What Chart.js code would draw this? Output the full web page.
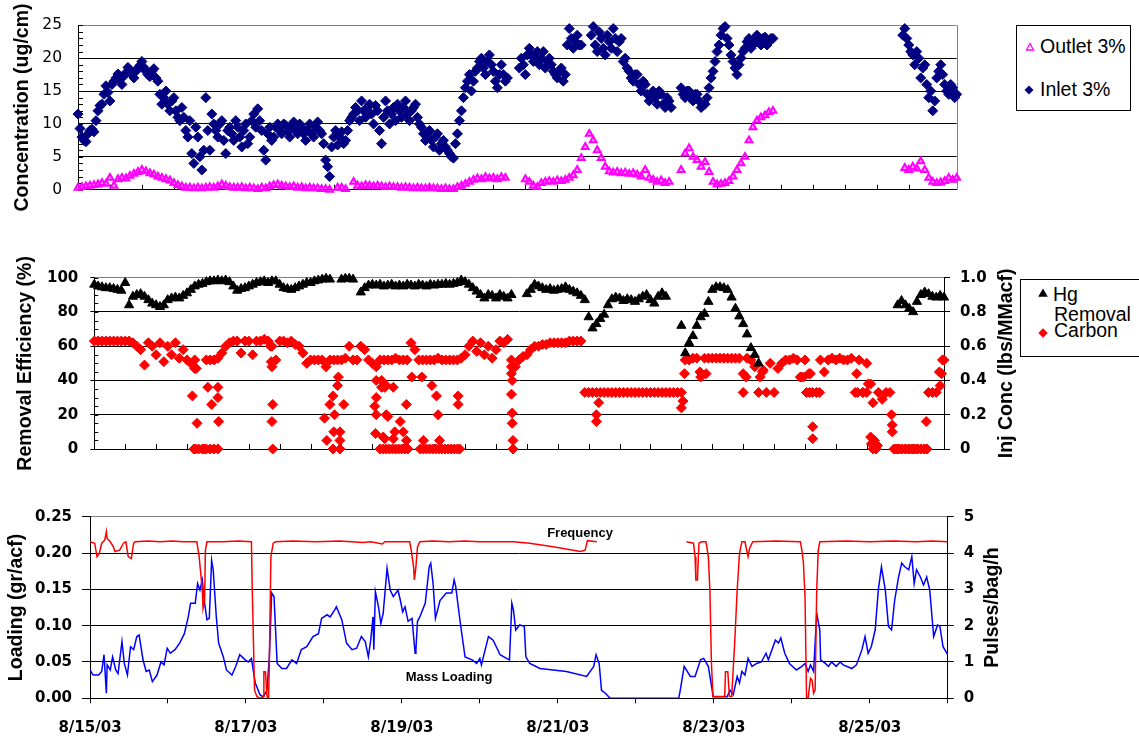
<!DOCTYPE html>
<html>
<head>
<meta charset="utf-8">
<script src="https://cdn.jsdelivr.net/npm/chart.js@4.4.1/dist/chart.umd.min.js"></script>
<style>
html,body{margin:0;padding:0;background:#fff;}
#wrap{position:relative;width:1139px;height:738px;overflow:hidden;background:#fff;font-family:"Liberation Sans",Arial,sans-serif;color:#000;}
canvas{position:absolute;left:0;}
.legend{position:absolute;border:1px solid #000;background:#fff;box-sizing:border-box;}
.lt{position:absolute;font-size:19.5px;line-height:19.5px;white-space:nowrap;}
.mk{position:absolute;width:10px;height:10px;}
.ann{position:absolute;font-weight:bold;font-size:13px;line-height:13px;white-space:nowrap;transform:translate(-50%,-50%);}
</style>
</head>
<body>
<div id="wrap">
  <canvas id="c1" width="1139" height="215" style="top:0px"></canvas>
  <canvas id="c2" width="1139" height="230" style="top:240px"></canvas>
  <canvas id="c3" width="1139" height="248" style="top:490px"></canvas>

  <div class="legend" style="left:1016px;top:25px;width:115px;height:86px;"></div>
  <svg class="mk" style="left:1024.5px;top:42px"><polygon points="5,1.5 8.5,8 1.5,8" fill="none" stroke="#FF00FF" stroke-width="1.3"/></svg>
  <div class="lt" style="left:1040px;top:36.5px">Outlet 3%</div>
  <svg class="mk" style="left:1024px;top:85px"><polygon points="5,0.5 9.5,5 5,9.5 0.5,5" fill="#000080"/></svg>
  <div class="lt" style="left:1040px;top:79.5px">Inlet 3%</div>

  <div class="legend" style="left:1020px;top:279px;width:130px;height:78px;"></div>
  <svg class="mk" style="left:1037.5px;top:288px"><polygon points="5,0.5 9.8,8.8 0.2,8.8" fill="#000"/></svg>
  <div class="lt" style="left:1053px;top:285px">Hg</div>
  <div class="lt" style="left:1054px;top:305px">Removal</div>
  <svg class="mk" style="left:1038px;top:328px"><polygon points="5,0.3 9.7,5 5,9.7 0.3,5" fill="#FF0000"/></svg>
  <div class="lt" style="left:1054px;top:320.5px">Carbon</div>

  <div class="ann" style="left:580px;top:531.7px">Frequency</div>
  <div class="ann" style="left:449px;top:676.3px">Mass Loading</div>
</div>
<script>
// ---------- DATA ----------
// x values are days after 8/15/03 00:00; scatter series are sampled every STEP days
const STEP = 0.05;
const HALF = 0.025;   // second set of inlet readings sits between the first
const dateLabels = ['8/15/03','','8/17/03','','8/19/03','','8/21/03','','8/23/03','','8/25/03',''];

// Panel 1: Inlet 3% concentration (ug/cm), readings at t = i*STEP
const inletVals = [
 11.5, 8.0, 7.3, 9.0, 8.8, 12.0, 13.0, 15.8, 13.5, 16.5, 17.6, 16.0, 17.8, 18.2, 17.0, 18.5, 19.5, 18.0, 17.2, 18.4,
 16.5, 13.0, 15.0, 12.0, 14.0, 11.0, 12.5, 9.0, 10.5, 4.0, 8.0, 3.0, 14.0, 6.0, 10.0, 8.0, 10.5, 5.5, 9.5, 7.5,
 9.5, 6.5, 10.0, 8.0, 11.5, 12.3, 9.0, 4.5, 9.5, 8.0, 10.0, 8.5, 9.8, 8.0, 10.3, 8.5, 9.5, 7.5, 10.0, 8.0,
 10.3, 8.5, 4.5, 2.0, 8.0, 6.8, 8.8, 7.5, 10.5, 11.5, 12.0, 13.5, 11.0, 13.0, 10.0, 12.0, 7.0, 13.5, 10.0, 12.5,
 13.0, 11.0, 13.5, 10.5, 12.5, 11.0, 9.5, 7.5, 9.0, 6.5, 8.5, 7.0, 6.5, 5.5, 4.8, 8.5, 12.0, 15.5, 17.5, 16.5,
 18.5, 20.0, 17.5, 20.5, 18.0, 15.5, 19.0, 16.5, null, null, null, 20.0, 17.5, 21.5, 19.5, 21.0, 20.0, 18.5, 20.0, 18.0,
 17.0, 18.5, 17.5, 24.5, 21.5, 23.5, 22.0, null, null, 24.8, 21.0, 23.0, 20.5, 22.5, 24.5, 21.0, 23.0, 20.0, 18.0, 16.5,
 17.5, 15.0, 16.0, 13.5, 15.0, 13.0, 14.5, 12.5, 13.5, null, null, 15.5, 14.0, 15.0, 13.5, 14.5, 12.5, 13.0, 15.5, 18.0,
 21.0, 23.5, 24.8, 22.0, 19.5, 17.5, 20.0, 21.5, 23.0, 22.0, 23.5, 22.0, 23.2, 22.5, 23.0, null, null, null, null, null,
 null, null, null, null, null, null, null, null, null, null, null, null, null, null, null, null, null, null, null, null,
 null, null, null, null, null, null, null, 24.5, 22.0, 20.5, 21.0, 17.0, 19.0, 14.0, 12.0, 17.0, 19.0, 16.0, 14.5, 15.5,
 14.5
];
// Panel 1: Inlet 3% further readings at t = HALF + i*STEP
const inletValsB = [
 9.3, 7.5, 8.5, 9.2, 10.5, 12.8, 14.5, 14.8, 16.0, 17.0, 16.8, 17.3, 18.6, 17.5, 18.0, 18.9, 18.6, 17.5, 18.0, 17.0,
 14.5, 14.0, 13.0, 13.5, 12.0, 10.5, 11.0, 8.0, 5.5, 9.5, 5.0, 6.0, 9.0, 11.5, 9.0, 10.0, 7.5, 9.0, 8.5, 10.5,
 8.0, 9.0, 7.0, 10.5, 9.5, 10.5, 6.0, 8.5, 7.5, 9.5, 9.0, 10.0, 8.8, 9.5, 9.0, 10.0, 8.5, 9.0, 8.5, 9.5,
 9.0, 7.0, 3.5, 6.5, 9.0, 8.0, 7.0, 9.0, 11.0, 12.5, 10.5, 12.0, 12.5, 11.5, 12.8, 9.0, 11.0, 12.0, 11.5, 10.5,
 12.0, 12.5, 11.5, 12.0, 13.0, 10.0, 8.5, 8.5, 7.5, 8.0, 6.0, 7.5, 6.0, 5.0, 7.0, 10.5, 14.0, 16.5, 15.0, 18.0,
 19.5, 18.5, 19.5, 19.0, 16.5, 17.5, 17.5, 17.0, null, null, 18.5, 19.0, 20.5, 20.5, 20.0, 19.0, 21.0, 19.5, 19.0, 17.5,
 18.0, 16.5, 22.0, 23.0, 22.5, 22.0, null, null, 23.5, 22.0, 24.0, 21.5, 23.5, 21.5, 23.0, 22.5, 19.5, 18.5, 17.0, 17.5,
 16.0, 16.5, 14.5, 14.5, 14.0, 15.0, 13.0, 14.0, 12.5, null, null, 14.5, 15.0, 14.0, 14.5, 13.5, 12.8, 14.0, 17.0, 19.5,
 22.0, 24.5, 23.0, 20.5, 18.5, 19.0, 21.0, 22.5, 21.5, 23.0, 22.5, 23.0, 22.0, 23.0, null, null, null, null, null, null,
 null, null, null, null, null, null, null, null, null, null, null, null, null, null, null, null, null, null, null, null,
 null, null, null, null, null, null, 23.5, 23.0, 21.0, 19.0, 20.0, 18.5, 16.0, 15.0, 13.5, 18.0, 17.5, 15.0, 16.0, 14.0
];

// Panel 1: Outlet 3% concentration (ug/cm)
const outletVals = [
 0.3, 0.4, 0.5, 0.6, 0.7, 0.8, 1.0, 0.9, 1.8, 0.6, 1.6, 1.8, 1.7, 2.1, 2.4, 2.7, 3.0, 2.8, 2.5, 2.3,
 2.0, 1.8, 1.6, 1.4, 1.0, 0.7, 0.5, 0.3, 0.3, 0.2, 0.3, 0.2, 0.3, 0.4, 0.3, 0.5, 0.8, 0.6, 0.4, 0.3,
 0.3, 0.4, 0.2, 0.3, 0.2, 0.1, 0.3, 0.2, 0.5, 0.7, 0.8, 0.6, 0.5, 0.4, 0.5, 0.3, 0.4, 0.2, 0.3, 0.2,
 0.2, 0.1, 0.1, 0.0, null, 0.3, 0.3, 0.1, null, 1.2, 0.6, 0.5, 0.7, 0.6, 0.5, 0.6, 0.5, 0.4, 0.5, 0.4,
 0.4, 0.3, 0.4, 0.3, 0.2, 0.3, 0.2, 0.2, 0.3, 0.2, 0.2, 0.1, 0.2, 0.1, 0.1, 0.4, 0.6, 0.9, 1.2, 1.5,
 1.7, 1.6, 1.9, 1.7, 1.8, 1.6, 1.9, 1.8, null, null, null, null, 1.6, 1.2, 0.6, 0.4, 1.0, 1.2, 1.3, 1.2,
 1.4, 1.3, 1.5, 1.8, 2.2, 3.0, 4.8, 6.5, 8.5, 7.5, 6.0, 4.8, 3.5, 2.8, 2.6, 2.7, 2.5, 2.6, 2.4, 2.5,
 2.3, 2.0, 3.0, 1.8, 1.5, 1.2, 1.4, 1.0, 1.2, null, null, 3.0, 5.5, 6.3, 5.0, 4.5, 3.5, 4.2, 2.7, 1.2,
 0.8, 0.9, 1.0, 1.3, 2.0, 3.0, 4.0, 5.0, 7.5, 9.5, 10.5, 11.0, 11.3, 11.8, 12.0, null, null, null, null, null,
 null, null, null, null, null, null, null, null, null, null, null, null, null, null, null, null, null, null, null, null,
 null, null, null, null, null, null, null, 3.3, 3.0, 3.5, 3.2, 4.3, 3.0, 1.8, 1.2, 1.0, 1.1, 1.3, 1.8, 1.5,
 1.8
];

// Panel 2: Hg removal efficiency (%)
const hgVals = [
 96, 95, 94.5, 94, 94, 93.5, 93, 92.5, 97, 84, 89, 90, 90.5, 89, 87, 85, 84, 83, 84, 87,
 88, 88.5, 88, 89.5, 91, 93, 95, 96, 96.5, 97.5, 98, 98, 98.5, 98, 98.5, 97.5, 95, 92.5, 93.5, 94,
 95, 96, 97, 97.5, 98, 97, 98, 98, 96, 94, 93.5, 93, 94, 95, 96, 97, 97, 98, 98.5, 99,
 99.5, 99, null, null, 99, 99.5, 99.5, 99, null, 91.5, 94, 95.5, 96, 95.5, 96, 95, 95.5, 96, 95, 95.5,
 95, 96, 95.5, 95, 96, 95.5, 95, 96, 95.5, 96, 96, 96.5, 96, 96.5, 97, 98.5, 97.5, 96, 94, 92,
 90, 88, 90, 89.5, 88, 90, 89, 88, 90, null, null, null, 90.5, 93, 96, 95, 94, 93, 93.5, 92.5,
 93, 93.5, 94.5, 93, 92, 91, 89.5, 87, 77, 70.5, 73, 76, 78.5, 84, 87.5, 88.5, 88, 86.5, 87.5, 87,
 86, 87.5, 89, 90, 87, 85, 89, 91, 89, null, null, null, 72, 56, 62, 66, 72, 77, 79, 86,
 93, 94.5, 94.5, 94, 93, 88.5, 82, 77.5, 73, 67, 59, 55, 50, null, null, null, null, null, null, null,
 null, null, null, null, null, null, null, null, null, null, null, null, null, null, null, null, null, null, null, null,
 null, null, null, null, null, null, null, null, 84, 86.5, 84, 82, 80, 86, 90, 91.5, 90.5, 89, 88.5, 89.5,
 88.5
];

// Panel 2: Carbon injection concentration (lbs/MMacf), main sampled band
const carbonVals = [
 0.63, 0.63, 0.63, 0.63, 0.63, 0.63, 0.63, 0.63, 0.63, 0.63, 0.62, 0.60, 0.58, 0.49, 0.62, 0.60, 0.55, 0.62, 0.51, 0.60,
 0.55, 0.62, 0.53, 0.58, 0.52, 0.50, 0.47, 0.00, 0.00, 0.52, 0.52, 0.52, 0.53, 0.56, 0.60, 0.62, 0.63, 0.63, 0.56, 0.63,
 0.63, 0.55, 0.63, 0.63, 0.64, 0.63, 0.60, 0.52, 0.63, 0.63, 0.62, 0.63, 0.61, 0.60, 0.56, 0.50, 0.52, 0.52, 0.52, 0.52,
 0.48, 0.52, 0.52, 0.52, 0.52, 0.53, 0.60, 0.52, 0.52, 0.60, 0.58, 0.52, 0.50, 0.48, 0.52, 0.52, 0.52, 0.52, 0.53, 0.52,
 0.52, 0.52, 0.62, 0.58, 0.52, 0.52, 0.52, 0.52, 0.52, 0.53, 0.52, 0.52, 0.52, 0.52, 0.52, 0.53, 0.55, 0.60, 0.63, 0.57,
 0.62, 0.55, 0.60, 0.53, 0.58, 0.63, 0.62, 0.64, 0.52, 0.48, 0.52, 0.54, 0.55, 0.58, 0.60, 0.60, 0.61, 0.61, 0.62, 0.62,
 0.62, 0.62, 0.62, 0.63, 0.63, 0.63, 0.63, 0.33, 0.33, 0.33, 0.33, 0.33, 0.33, 0.33, 0.33, 0.33, 0.33, 0.33, 0.33, 0.33,
 0.33, 0.33, 0.33, 0.33, 0.33, 0.33, 0.33, 0.33, 0.33, 0.33, 0.33, 0.33, 0.33, 0.52, 0.52, 0.53, 0.53, 0.42, 0.53, 0.53,
 0.53, 0.53, 0.53, 0.53, 0.53, 0.53, 0.53, 0.53, 0.44, 0.53, 0.52, 0.48, 0.33, 0.45, 0.33, 0.50, 0.33, 0.47, 0.50, 0.52,
 0.52, 0.53, 0.52, 0.42, 0.52, 0.44, 0.33, 0.33, 0.52, 0.45, 0.52, 0.53, 0.52, 0.53, 0.52, 0.52, 0.53, 0.33, 0.52, 0.33,
 0.50, 0.38, 0.02, 0.33, 0.29, 0.33, 0.33, 0.00, 0.00, 0.00, 0.00, 0.00, 0.00, 0.00, 0.00, 0.00, 0.33, 0.33, 0.33, 0.37,
 0.52
];

// Panel 2: scattered Carbon readings off the main band [day, lbs/MMacf]
const carbonScatter = [
 [1.27,0.31],[1.29,0.00],[1.31,0.00],[1.33,0.15],[1.42,0.00],[1.45,0.00],[1.47,0.36],[1.50,0.00],[1.52,0.26],[1.55,0.00],
 [1.60,0.36],[1.60,0.30],[1.61,0.16],[1.60,0.00],[1.32,0.47],[1.30,0.52],
 [2.28,0.60],[2.29,0.51],[2.30,0.48],[2.31,0.26],[2.30,0.16],[2.31,0.00],
 [2.98,0.18],[3.01,0.05],[3.05,0.26],[3.09,0.31],[3.11,0.20],[3.10,0.10],[3.09,0.00],[3.15,0.37],[3.16,0.42],[3.18,0.10],
 [3.18,0.05],[3.18,0.00],[3.23,0.26],
 [3.65,0.40],[3.65,0.30],[3.63,0.25],[3.65,0.20],[3.64,0.09],[3.74,0.07],[3.78,0.37],[3.80,0.19],[3.72,0.40],[3.72,0.36],
 [3.76,0.36],[3.78,0.20],[3.76,0.06],[3.87,0.36],[3.87,0.06],[3.89,0.10],[3.96,0.16],[4.00,0.10],[4.04,0.26],[4.04,0.05],
 [4.11,0.42],[4.24,0.42],[4.26,0.05],[4.37,0.37],[4.43,0.31],[4.45,0.20],[4.47,0.05],[4.71,0.31],[4.71,0.26],
 [3.70,0],[3.74,0],[3.78,0],[3.82,0],[3.86,0],[3.90,0],[3.94,0],[3.98,0],[4.02,0],[4.06,0],
 [4.22,0],[4.26,0],[4.30,0],[4.34,0],[4.38,0],[4.42,0],[4.46,0],[4.50,0],[4.54,0],[4.58,0],[4.62,0],[4.66,0],[4.70,0],[4.73,0],
 [5.40,0.48],[5.40,0.44],[5.41,0.40],[5.40,0.32],[5.41,0.21],[5.41,0.15],[5.42,0.05],[5.42,0.00],
 [6.50,0.20],[6.50,0.16],[6.53,0.27],[7.60,0.24],[7.62,0.28],[7.64,0.44],[7.84,0.45],[7.92,0.44],[8.40,0.33],[8.62,0.42],
 [8.66,0.46],[8.44,0.42],
 [9.14,0.42],[9.18,0.42],[9.27,0.44],[9.22,0.33],[9.26,0.33],[9.39,0.33],[9.30,0.13],[9.30,0.06],[9.87,0.44],[10.02,0.38],
 [10.08,0.27],[9.88,0.33],[9.95,0.33],[10.00,0.33],
 [10.05,0.07],[10.06,0.03],[10.08,0.00],[10.10,0.05],[10.12,0.00],[10.14,0.02],[10.32,0.20],[10.33,0.14],[10.33,0.10],
 [10.77,0.16],[10.94,0.45],[10.98,0.52],[10.97,0.44],
 [10.38,0],[10.42,0],[10.46,0],[10.50,0],[10.54,0],[10.58,0],[10.62,0],[10.66,0],[10.70,0],[10.74,0],[10.78,0]
];

// Panel 3: Mass loading (gr/acf) [day, value]
const loadingPts = [
 [0.00,0.039],[0.04,0.032],[0.11,0.032],[0.15,0.037],[0.18,0.060],[0.21,0.007],[0.22,0.046],[0.26,0.039],[0.29,0.057],
 [0.33,0.039],[0.36,0.034],[0.41,0.078],[0.44,0.048],[0.48,0.032],[0.52,0.071],[0.56,0.067],[0.60,0.085],[0.63,0.087],
 [0.68,0.053],[0.72,0.037],[0.76,0.039],[0.80,0.023],[0.86,0.032],[0.91,0.050],[0.95,0.046],[0.99,0.069],[1.03,0.062],
 [1.09,0.067],[1.15,0.076],[1.21,0.089],[1.26,0.112],[1.29,0.131],[1.35,0.131],[1.38,0.158],[1.41,0.149],[1.44,0.163],
 [1.47,0.131],[1.50,0.108],[1.53,0.110],[1.56,0.190],[1.58,0.177],[1.62,0.112],[1.65,0.076],[1.71,0.057],[1.75,0.039],
 [1.82,0.032],[1.87,0.044],[1.92,0.060],[1.99,0.053],[2.03,0.050],[2.07,0.055],[2.12,0.021],[2.18,0.005],[2.22,0.002],
 [2.27,0.011],[2.30,0.057],[2.33,0.145],[2.36,0.140],[2.40,0.048],[2.46,0.041],[2.52,0.041],[2.59,0.053],[2.65,0.048],
 [2.71,0.067],[2.78,0.071],[2.86,0.085],[2.93,0.089],[2.97,0.110],[3.04,0.115],[3.08,0.112],[3.14,0.122],[3.16,0.126],
 [3.23,0.108],[3.29,0.076],[3.36,0.067],[3.42,0.069],[3.48,0.085],[3.53,0.078],[3.57,0.057],[3.60,0.080],[3.63,0.112],
 [3.64,0.067],[3.66,0.147],[3.70,0.126],[3.73,0.103],[3.76,0.117],[3.81,0.179],[3.85,0.149],[3.89,0.140],[3.95,0.149],
 [3.98,0.135],[4.01,0.119],[4.04,0.126],[4.08,0.106],[4.13,0.110],[4.15,0.085],[4.17,0.062],[4.18,0.067],[4.20,0.106],
 [4.23,0.112],[4.30,0.131],[4.35,0.181],[4.37,0.186],[4.40,0.158],[4.43,0.110],[4.49,0.135],[4.57,0.145],[4.64,0.145],
 [4.67,0.163],[4.69,0.154],[4.75,0.103],[4.81,0.057],[4.90,0.053],[4.96,0.048],[5.00,0.055],[5.02,0.046],[5.11,0.085],
 [5.17,0.080],[5.26,0.060],[5.34,0.055],[5.38,0.053],[5.41,0.131],[5.43,0.122],[5.46,0.094],[5.51,0.101],[5.57,0.099],
 [5.59,0.057],[5.64,0.048],[5.77,0.041],[6.11,0.037],[6.37,0.030],[6.46,0.044],[6.49,0.060],[6.53,0.048],[6.56,0.011],
 [6.61,0.007],[6.67,0.000],[7.55,0.000],[7.57,0.011],[7.62,0.044],[7.70,0.030],[7.76,0.030],[7.83,0.053],[7.87,0.055],
 [7.93,0.044],[7.98,0.011],[7.99,0.002],[8.17,0.002],[8.21,0.011],[8.25,0.005],[8.30,0.030],[8.33,0.021],[8.36,0.037],
 [8.40,0.032],[8.44,0.055],[8.49,0.044],[8.55,0.048],[8.61,0.050],[8.67,0.062],[8.70,0.053],[8.79,0.080],[8.83,0.076],
 [8.86,0.083],[8.91,0.062],[8.97,0.048],[9.06,0.039],[9.13,0.044],[9.17,0.048],[9.21,0.037],[9.24,0.046],[9.28,0.037],
 [9.32,0.117],[9.36,0.094],[9.37,0.053],[9.43,0.048],[9.47,0.044],[9.51,0.050],[9.57,0.044],[9.62,0.050],[9.66,0.046],
 [9.77,0.041],[9.83,0.046],[9.90,0.067],[9.94,0.085],[9.98,0.062],[10.02,0.071],[10.07,0.094],[10.11,0.149],[10.15,0.181],
 [10.20,0.149],[10.24,0.099],[10.28,0.094],[10.32,0.135],[10.37,0.167],[10.41,0.186],[10.45,0.181],[10.50,0.177],
 [10.54,0.195],[10.57,0.158],[10.60,0.177],[10.65,0.167],[10.69,0.156],[10.73,0.167],[10.77,0.149],[10.82,0.085],
 [10.87,0.101],[10.90,0.099],[10.94,0.071],[11.00,0.060]
];

// Panel 3: Cleaning frequency (pulses/bag/h) [day, value]; null = no data
const frequencyPts = [
 [0.00,4.31],[0.06,4.27],[0.09,3.90],[0.12,3.99],[0.15,4.27],[0.19,4.36],[0.21,4.59],[0.22,4.40],[0.26,4.31],[0.30,4.17],
 [0.32,4.04],[0.38,4.08],[0.43,4.27],[0.46,4.31],[0.49,3.90],[0.53,3.85],[0.56,4.27],[0.58,4.31],[0.75,4.33],[0.90,4.31],
 [1.05,4.33],[1.20,4.31],[1.37,4.31],[1.40,3.90],[1.42,3.44],[1.44,2.98],[1.45,2.48],[1.47,2.71],[1.48,4.08],[1.50,4.31],
 [1.70,4.31],[1.90,4.33],[2.07,4.31],[2.08,3.12],[2.11,0.23],[2.14,0.05],[2.18,0.00],[2.22,0.05],[2.23,0.73],[2.25,0.73],
 [2.27,0.05],[2.29,0.00],[2.30,0.96],[2.32,3.90],[2.35,4.27],[2.38,4.31],[2.60,4.33],[2.90,4.31],[3.20,4.33],[3.50,4.29],
 [3.60,4.31],[3.75,4.25],[3.78,4.31],[4.10,4.31],[4.12,4.08],[4.15,3.62],[4.16,3.26],[4.18,3.62],[4.20,4.17],[4.23,4.31],
 [4.40,4.33],[4.60,4.31],[4.80,4.33],[5.00,4.31],[5.43,4.31],[5.64,4.27],[5.94,4.17],[6.29,4.04],[6.35,4.08],[6.38,4.34],
 [6.50,4.31],[6.51,null],
 [7.65,4.31],[7.74,4.27],[7.76,3.90],[7.77,3.26],[7.79,3.26],[7.81,4.27],[7.84,4.31],[7.90,4.31],[7.93,3.90],[7.95,2.98],
 [7.97,0.96],[7.99,0.05],[8.14,0.05],[8.15,0.73],[8.18,0.73],[8.20,0.05],[8.23,0.05],[8.27,1.60],[8.30,2.98],[8.33,3.99],
 [8.36,4.31],[8.40,4.31],[8.44,3.90],[8.46,4.13],[8.50,4.31],[8.80,4.33],[9.11,4.31],[9.13,4.08],[9.15,3.72],[9.17,2.80],
 [9.19,0.00],[9.21,0.00],[9.24,0.55],[9.26,0.50],[9.28,0.14],[9.30,0.23],[9.32,2.98],[9.33,3.53],[9.34,4.08],[9.36,4.31],
 [9.70,4.33],[10.00,4.31],[10.30,4.33],[10.60,4.31],[10.80,4.33],[11.00,4.31]
];

// ---------- HELPERS ----------
const gridPts = (vals, offset) => vals.map((v, i) => ({x: +((offset || 0) + i * STEP).toFixed(3), y: v}));
const pairPts = arr => arr.map(p => ({x: p[0], y: p[1]}));

const TITLE_FONT = {family: '"Liberation Sans", Arial, sans-serif', size: 19.5, weight: 'bold', lineHeight: 1.2};
const TICK_BOLD = {family: '"DejaVu Sans", sans-serif', size: 15, weight: 'bold'};
const TICK_REG = {family: '"DejaVu Sans", sans-serif', size: 15.5, weight: 'normal'};
const topGray = max => (c => (c.tick && Math.abs(c.tick.value - max) < 1e-9) ? '#808080' : '#000');

const extras = {
  id: 'extras',
  beforeDatasetsDraw(chart, args, o) {
    const {ctx, chartArea: a} = chart;
    ctx.save();
    ctx.lineWidth = 1;
    const seg = (x1, y1, x2, y2) => { ctx.beginPath(); ctx.moveTo(x1, y1); ctx.lineTo(x2, y2); ctx.stroke(); };
    if (o.rightBorder) {
      ctx.strokeStyle = o.rightBorder;
      const x = Math.round(a.right) + 0.5;
      seg(x, a.top, x, a.bottom);
    }
    ctx.strokeStyle = '#000';
    if (o.yMinor) {
      const s = chart.scales.y;
      const n = Math.round((s.max - s.min) / o.yMinor);
      for (let i = 0; i <= n; i++) {
        const y = Math.round(s.getPixelForValue(s.min + i * o.yMinor)) + 0.5;
        seg(a.left, y, a.left + o.yMinorLen, y);
      }
    }
    if (o.xInside) {
      const s = chart.scales.x;
      s.ticks.forEach(t => {
        if (t.value <= s.min + 1e-6 || t.value >= s.max - 1e-6) return;
        const x = Math.round(s.getPixelForValue(t.value)) + 0.5;
        seg(x, a.bottom, x, a.bottom - o.xInside);
      });
    }
    ctx.restore();
  },
  afterDraw(chart, args, o) {
    if (!o.rightTitle) return;
    const {ctx, chartArea: a} = chart;
    ctx.save();
    ctx.font = 'bold 19.5px "Liberation Sans", Arial, sans-serif';
    ctx.fillStyle = '#000';
    ctx.textAlign = 'center';
    ctx.textBaseline = 'middle';
    ctx.translate(o.rightTitle.x, (a.top + a.bottom) / 2);
    ctx.rotate(-Math.PI / 2);
    ctx.fillText(o.rightTitle.text, 0, 0);
    ctx.restore();
  }
};
Chart.register(extras);

const base = {responsive: false, animation: false, events: [], maintainAspectRatio: false};

// ---------- PANEL 1 ----------
new Chart(document.getElementById('c1'), {
  type: 'scatter',
  data: {datasets: [
    {label: 'Outlet 3%', data: gridPts(outletVals), pointStyle: 'triangle', pointRadius: 3.9,
     borderColor: '#FF00FF', backgroundColor: 'rgba(255,0,255,0.35)', borderWidth: 2, clip: false},
    {label: 'Inlet 3%', data: gridPts(inletVals).concat(gridPts(inletValsB, HALF)), pointStyle: 'rectRot', pointRadius: 5,
     borderColor: '#000080', backgroundColor: '#000080', borderWidth: 1, clip: false}
  ]},
  options: Object.assign({}, base, {
    layout: {padding: {top: 22, right: 182.3, left: 0, bottom: 0}},
    plugins: {legend: {display: false}, tooltip: {enabled: false},
              extras: {rightBorder: '#808080', yMinor: 1, yMinorLen: 5, xInside: 5}},
    scales: {
      x: {type: 'linear', min: 0, max: 11, ticks: {display: false, stepSize: 0.4},
          grid: {display: false}, border: {color: '#000', width: 1},
          afterFit: s => { s.height = 10; }},
      y: {min: 0, max: 25, ticks: {stepSize: 5, font: TICK_REG, color: '#000', padding: 16},
          grid: {color: topGray(25), drawTicks: false, lineWidth: 1},
          border: {color: '#000', width: 1},
          title: {display: true, text: 'Concentration (ug/cm)', font: TITLE_FONT, color: '#000', padding: {top: 10.8, bottom: 0}},
          afterFit: s => { s.width = 78; }}
    }
  })
});

// ---------- PANEL 2 ----------
new Chart(document.getElementById('c2'), {
  type: 'scatter',
  data: {datasets: [
    {label: 'Hg Removal', data: gridPts(hgVals), yAxisID: 'y', pointStyle: 'triangle', pointRadius: 5.3,
     borderColor: '#000', backgroundColor: '#000', borderWidth: 1, clip: false},
    {label: 'Carbon', data: gridPts(carbonVals).concat(pairPts(carbonScatter)), yAxisID: 'y2',
     pointStyle: 'rectRot', pointRadius: 5, borderColor: '#FF0000', backgroundColor: '#FF0000', borderWidth: 1, clip: false}
  ]},
  options: Object.assign({}, base, {
    layout: {padding: {top: 37.7, right: 0, left: 0, bottom: 0}},
    plugins: {legend: {display: false}, tooltip: {enabled: false},
              extras: {yMinor: 5, yMinorLen: 4, xInside: 5, rightTitle: {text: 'Inj Conc (lbs/MMacf)', x: 1007}}},
    scales: {
      x: {type: 'linear', min: 0, max: 11, ticks: {display: false, stepSize: 0.4},
          grid: {display: false}, border: {color: '#000', width: 1},
          afterFit: s => { s.height = 10; }},
      y: {position: 'left', min: 0, max: 100, ticks: {stepSize: 20, font: TICK_BOLD, color: '#000', padding: 12},
          grid: {color: topGray(100), tickColor: '#000', tickLength: 4, lineWidth: 1},
          border: {color: '#000', width: 1},
          title: {display: true, text: 'Removal Efficiency (%)', font: TITLE_FONT, color: '#000', padding: {top: 14.1, bottom: 0}},
          afterFit: s => { s.width = 94.3; }},
      y2: {position: 'right', min: 0, max: 1, ticks: {stepSize: 0.2, font: TICK_BOLD, color: '#000', padding: 10},
           grid: {drawOnChartArea: false, color: '#000', tickLength: 6},
           border: {color: '#000', width: 1},
           afterFit: s => { s.width = 195; }}
    }
  })
});

// ---------- PANEL 3 ----------
new Chart(document.getElementById('c3'), {
  type: 'line',
  data: {datasets: [
    {label: 'Frequency', data: pairPts(frequencyPts), yAxisID: 'y2', borderColor: '#FF0000', borderWidth: 1.5,
     pointRadius: 0, tension: 0, spanGaps: false, fill: false},
    {label: 'Mass Loading', data: pairPts(loadingPts), yAxisID: 'y', borderColor: '#0000FF', borderWidth: 1.5,
     pointRadius: 0, tension: 0, fill: false}
  ]},
  options: Object.assign({}, base, {
    layout: {padding: {top: 26.7, right: 0, left: 0, bottom: 0}},
    plugins: {legend: {display: false}, tooltip: {enabled: false},
              extras: {rightTitle: {text: 'Pulses/bag/h', x: 993}}},
    scales: {
      x: {type: 'linear', min: 0, max: 11,
          ticks: {stepSize: 1, autoSkip: false, maxRotation: 0, minRotation: 0, font: TICK_BOLD, color: '#000', padding: 16,
                  callback: v => dateLabels[Math.round(v)] || ''},
          grid: {drawOnChartArea: false, color: '#000', tickLength: 5},
          border: {color: '#000', width: 1},
          afterFit: s => { s.height = 39.7; }},
      y: {position: 'left', min: 0, max: 0.25,
          ticks: {stepSize: 0.05, font: TICK_BOLD, color: '#000', padding: 10, callback: v => v.toFixed(2)},
          grid: {color: topGray(0.25), tickColor: '#000', tickLength: 8, lineWidth: 1},
          border: {color: '#000', width: 1},
          title: {display: true, text: 'Loading (gr/acf)', font: TITLE_FONT, color: '#000', padding: {top: 5, bottom: 0}},
          afterFit: s => { s.width = 90; }},
      y2: {position: 'right', min: 0, max: 5, ticks: {stepSize: 1, font: TICK_BOLD, color: '#000', padding: 10},
           grid: {drawOnChartArea: false, color: '#000', tickLength: 6},
           border: {color: '#000', width: 1},
           afterFit: s => { s.width = 191.3; }}
    }
  })
});
</script>
</body>
</html>
